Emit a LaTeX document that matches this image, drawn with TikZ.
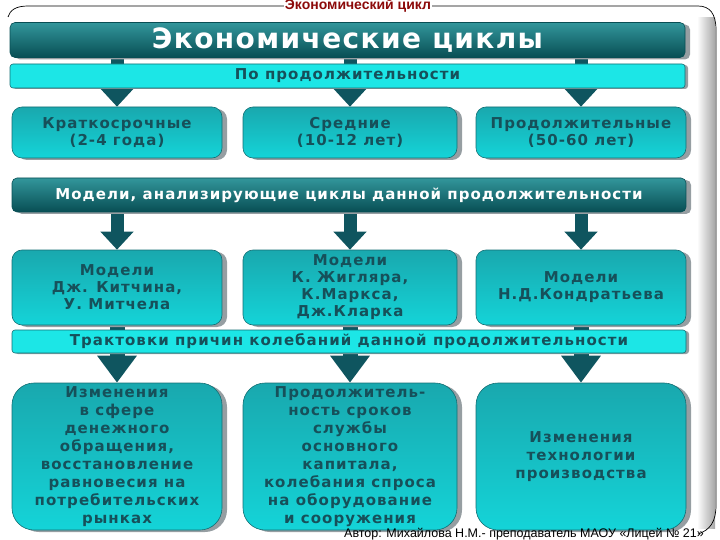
\documentclass[tikz,border=0pt]{standalone}
\usepackage{fontspec}
\setmainfont{DejaVu Sans}
\newfontfamily\bxf[LetterSpace=7]{DejaVu Sans}
\newfontfamily\ttlf[LetterSpace=5]{DejaVu Sans}
\newfontfamily\ftf{Liberation Sans}
\usetikzlibrary{shadows,arrows.meta}
\pgfdeclarelayer{back}
\pgfdeclarelayer{bg}
\pgfsetlayers{back,bg,main}
\definecolor{dk1}{RGB}{50,150,155}
\definecolor{dk2}{RGB}{22,112,118}
\definecolor{dk3}{RGB}{8,78,84}
\definecolor{lt1}{RGB}{25,168,174}
\definecolor{lt2}{RGB}{12,226,228}
\definecolor{lt3}{RGB}{20,212,216}
\definecolor{cy}{RGB}{28,230,230}
\definecolor{edge}{RGB}{20,110,115}
\definecolor{txt}{RGB}{22,80,90}
\definecolor{arr}{RGB}{15,85,95}
\definecolor{shd}{RGB}{150,158,162}
\definecolor{ttl}{RGB}{140,10,10}
\tikzset{
  sh/.style={drop shadow={shadow xshift=5pt, shadow yshift=-2pt, fill=shd, opacity=1}},
  darkbox/.style={sh, draw=dk3, line width=0.6pt, rounded corners=5pt,
    top color=dk1, middle color=dk2, bottom color=dk3, text=white,
    font=\bxf\bfseries\fontsize{15}{17}\selectfont, inner sep=0pt},
  cybar/.style={drop shadow={shadow xshift=3pt, shadow yshift=-1pt, fill=shd, opacity=1},
    draw=edge, line width=0.6pt, rounded corners=3pt, fill=cy, text=txt,
    font=\bxf\bfseries\fontsize{15}{17}\selectfont, inner sep=0pt},
  ltbox/.style={sh, draw=edge, line width=0.6pt, rounded corners=10pt,
    top color=lt1, middle color=lt2, bottom color=lt3, text=txt, align=center,
    font=\bxf\bfseries\fontsize{15}{17}\selectfont, inner sep=0pt},
  bigbox/.style={ltbox, rounded corners=22pt, minimum height=147,
    font=\bxf\bfseries\fontsize{15}{18}\selectfont},
  blk/.style={draw=arr, line width=13pt},
}
\begin{document}
\begin{tikzpicture}[x=1pt,y=-1pt]
\useasboundingbox (0,0) rectangle (720,540);
% frame
\begin{pgfonlayer}{back}
\shade[left color=white, right color=black!35] (697,18) rectangle (715,528);
\draw[black, line width=0.7pt] (8,17) .. controls (10,10) and (16,6) .. (28,6) -- (698,6)
  .. controls (710,6) and (716,14) .. (716,30) -- (716,505)
  .. controls (716,522) and (710,530) .. (698,534);
\end{pgfonlayer}
\node[font=\bfseries\ftf\fontsize{14}{14}\selectfont, text=ttl, fill=white, inner sep=1pt] (hd) at (358,6) {Экономический цикл};
% title
\node[darkbox, minimum width=675, minimum height=35, font=\ttlf\bfseries\fontsize{28}{30}\selectfont] (t) at (347.5,40) {Экономические циклы};
% row 1
\node[ltbox, minimum width=210, minimum height=51] (k1) at (117,132.5) {Краткосрочные\\(2-4 года)};
\node[ltbox, minimum width=214, minimum height=51] (k2) at (350,132.5) {Средние\\(10-12 лет)};
\node[ltbox, minimum width=210, minimum height=51] (k3) at (581,132.5) {Продолжительные\\(50-60 лет)};
% row 2
\node[ltbox, minimum width=210, minimum height=75] (m1) at (117,287.5) {Модели\\Дж. Китчина,\\У. Митчела};
\node[ltbox, minimum width=214, minimum height=75] (m2) at (350,287.5) {Модели\\К. Жигляра,\\К.Маркса,\\Дж.Кларка};
\node[ltbox, minimum width=210, minimum height=75] (m3) at (581,287.5) {Модели\\Н.Д.Кондратьева};
% row 3
\node[bigbox, minimum width=210] (r1) at (117,456.5) {Изменения\\в сфере\\денежного\\обращения,\\восстановление\\равновесия на\\потребительских\\рынках};
\node[bigbox, minimum width=214] (r2) at (350,456.5) {Продолжитель-\\ность сроков\\службы\\основного\\капитала,\\колебания спроса\\на оборудование\\и сооружения};
\node[bigbox, minimum width=210] (r3) at (581,456.5) {Изменения\\технологии\\производства};
% bars
\node[cybar, minimum width=675, minimum height=24] (b1) at (347.5,76) {По продолжительности};
\node[darkbox, minimum width=674, minimum height=34] (b2) at (349,195) {Модели, анализирующие циклы данной продолжительности};
\node[cybar, minimum width=674, minimum height=23] (b3) at (349,341.5) {Трактовки причин колебаний данной продолжительности};
% arrows
\begin{pgfonlayer}{bg}
\foreach \k in {1,2,3}{
  \draw[blk, -{Triangle[length=18pt,width=32pt]}] (t.south -| k\k.north) -- (k\k.north);
  \draw[blk, -{Triangle[length=18pt,width=32pt]}] (b2.south -| m\k.north) -- (m\k.north);
  \draw[blk, line width=15pt, -{Triangle[length=27pt,width=38pt]}] (m\k.south) -- (r\k.north);
}
\end{pgfonlayer}
% footer
\node[font=\ftf\fontsize{12.5}{13}\selectfont, anchor=west, inner sep=0pt] (ft) at (344,534) {Автор: Михайлова Н.М.- преподаватель МАОУ «Лицей № 21»};
\end{tikzpicture}
\end{document}
